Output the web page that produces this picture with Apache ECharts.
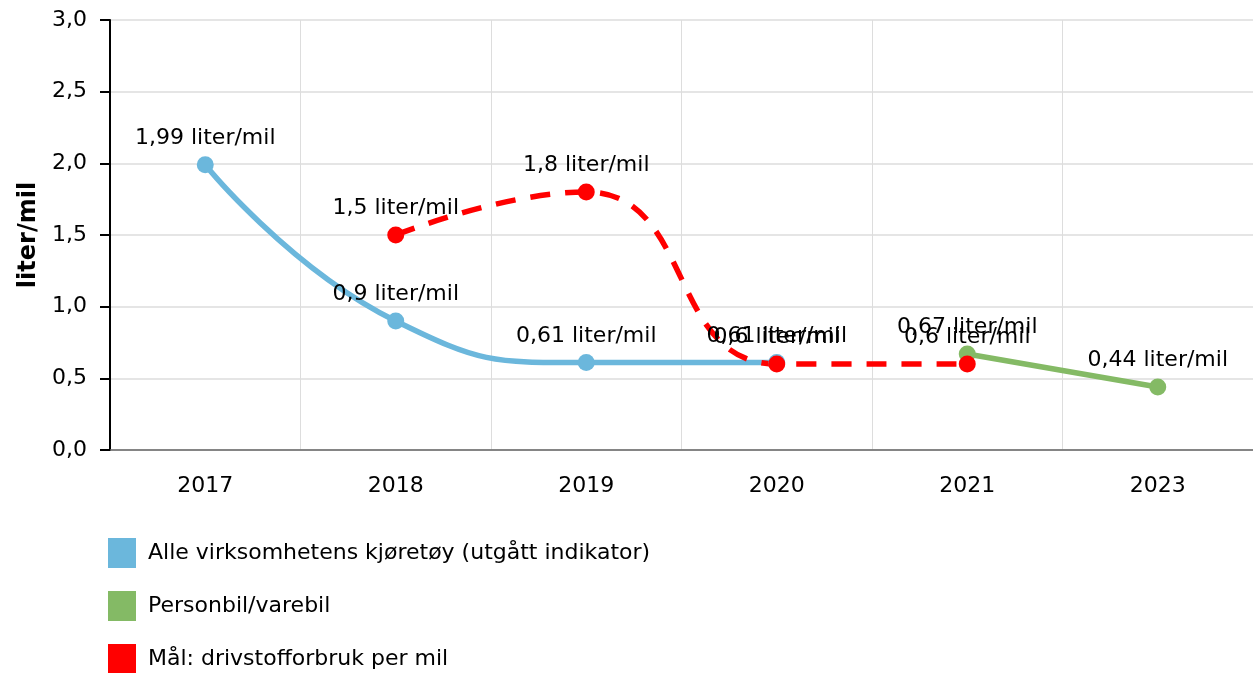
<!DOCTYPE html>
<html><head><meta charset="utf-8">
<script src="https://cdn.jsdelivr.net/npm/echarts@6/dist/echarts.min.js"></script>
<style>html,body{margin:0;padding:0;background:#fff}#c{width:1253px;height:673px}</style>
</head><body><div id="c"></div>
<script>
const categories = ['2017','2018','2019','2020','2021','2023'];
const alleVirksomhetens = [1.99, 0.9, 0.61, 0.61, null, null];
const personbilVarebil = [null, null, null, null, 0.67, 0.44];
const maalDrivstoff = [null, 1.5, 1.8, 0.6, 0.6, null];
const seriesNames = ['Alle virksomhetens kjøretøy (utgått indikator)', 'Personbil/varebil', 'Mål: drivstofforbruk per mil'];
const yTicks = [0, 0.5, 1, 1.5, 2, 2.5, 3];

const FONT = 'DejaVu Sans';
const FS = 22;
const fmt = v => v.toFixed(1).replace('.', ',');
const lbl = {
  show: true, position: 'top', distance: 7,
  fontFamily: FONT, fontSize: FS, color: '#000',
  formatter: p => String(p.value).replace('.', ',') + ' liter/mil'
};
const legendTops = [538, 591, 644];
const chart = echarts.init(document.getElementById('c'), null, {renderer: 'canvas'});
chart.setOption({
  animation: false,
  textStyle: {fontFamily: FONT},
  grid: {left: 110, right: -3, top: 20, bottom: 223, containLabel: false},
  legend: seriesNames.map((n, i) => ({
    orient: 'vertical', left: 108, top: legendTops[i], icon: 'rect', padding: 0,
    itemWidth: 28, itemHeight: 30, itemGap: 0,
    textStyle: {fontFamily: FONT, fontSize: FS, color: '#000', padding: [0, 0, 0, 7]},
    data: [n]
  })),
  xAxis: {
    type: 'category', data: categories, boundaryGap: true,
    axisLine: {lineStyle: {color: '#666', width: 1.5}},
    axisTick: {alignWithLabel: true, length: 8, lineStyle: {color: '#aaa', width: 1.5}},
    axisLabel: {fontFamily: FONT, fontSize: FS, color: '#000', margin: 25},
    splitLine: {show: true, lineStyle: {color: '#ddd', width: 1}}
  },
  yAxis: {
    type: 'value', min: 0, max: 3, interval: 0.5,
    name: 'liter/mil', nameLocation: 'middle', nameGap: 68, nameRotate: 90,
    nameTextStyle: {fontFamily: FONT, fontSize: 24, fontWeight: 'bold', color: '#000'},
    axisLine: {show: true, lineStyle: {color: '#000', width: 2}},
    axisTick: {show: true, length: 10, lineStyle: {color: '#000', width: 2}},
    axisLabel: {fontFamily: FONT, fontSize: FS, color: '#000', margin: 23, formatter: v => fmt(v)},
    splitLine: {lineStyle: {color: '#ddd', width: 1.5}}
  },
  series: [
    {name: seriesNames[0], type: 'line', data: alleVirksomhetens, smooth: 0.5,
     symbol: 'circle', symbolSize: 17, color: '#6bb7dc',
     lineStyle: {width: 5.5, color: '#6bb7dc'}, itemStyle: {color: '#6bb7dc'}, label: lbl},
    {name: seriesNames[1], type: 'line', data: personbilVarebil, smooth: false,
     symbol: 'circle', symbolSize: 17, color: '#84ba65',
     lineStyle: {width: 5.5, color: '#84ba65'}, itemStyle: {color: '#84ba65'}, label: lbl},
    {name: seriesNames[2], type: 'line', data: maalDrivstoff, smooth: 0.5,
     symbol: 'circle', symbolSize: 17, color: '#ff0000',
     lineStyle: {width: 5.5, color: '#ff0000', type: [20, 15]}, itemStyle: {color: '#ff0000'}, label: lbl}
  ]
});
</script></body></html>
